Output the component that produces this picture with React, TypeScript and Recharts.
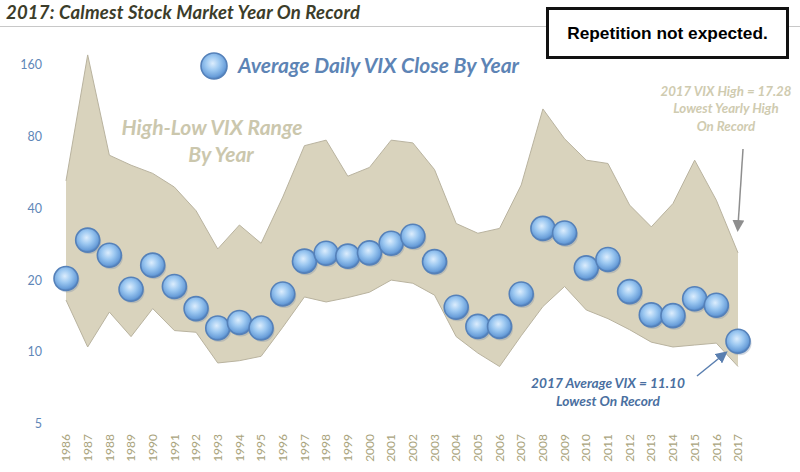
import { ComposedChart, Area, Scatter, XAxis, YAxis } from "recharts";

const years = [
  1986, 1987, 1988, 1989, 1990, 1991, 1992, 1993, 1994, 1995, 1996, 1997, 1998, 1999, 2000, 2001,
  2002, 2003, 2004, 2005, 2006, 2007, 2008, 2009, 2010, 2011, 2012, 2013, 2014, 2015, 2016, 2017,
];

// average daily close per year
const avgClose = [
  20.3, 29.4, 25.4, 18.3, 23.1, 18.8, 15.2, 12.6, 13.3, 12.6, 17.5, 24.0, 25.9, 25.2, 26.0, 28.5,
  30.5, 23.9, 15.4, 12.8, 12.8, 17.5, 32.9, 31.5, 22.5, 24.4, 17.9, 14.3, 14.2, 16.7, 15.7, 11.1,
];

const yearHigh = [
  52, 175, 66.6, 60.5, 55.9, 49, 39, 27, 34, 28.5, 44.5, 73, 77, 54.4, 59.2, 77,
  75, 58, 34.5, 31.4, 32.9, 50, 104, 78, 63.5, 61.5, 41.2, 33.4, 41.8, 63.5, 43.2, 26,
];

const yearLow = [
  16.5, 10.5, 14.7, 11.6, 15.2, 12.3, 12.1, 9.0, 9.2, 9.6, 12.7, 17.0, 16.2, 16.9, 17.8, 20.0,
  19.4, 17.3, 11.6, 9.9, 8.7, 11.7, 15.5, 18.8, 15.0, 13.8, 12.4, 11.0, 10.5, 10.7, 10.9, 8.7,
];

const yTicks = [5, 10, 20, 40, 80, 160];

const data = years.map((year, i) => ({
  year,
  avg: avgClose[i],
  range: [yearLow[i], yearHigh[i]],
}));

const FONT = "Lato, 'Open Sans', sans-serif";

function Bubble(props: any) {
  const { cx, cy } = props;
  if (cx == null || cy == null) return null;
  return (
    <g>
      <circle cx={cx + 1.5} cy={cy + 2} r={12} fill="#7d8fa6" opacity={0.35} />
      <circle cx={cx} cy={cy} r={12} fill="url(#bubbleFill)" stroke="#5581b9" strokeWidth={1.6} />
    </g>
  );
}

function YearTick(props: any) {
  const { x, y, payload } = props;
  return (
    <text
      x={x}
      y={y}
      transform={`rotate(-90, ${x}, ${y})`}
      textAnchor="end"
      dy="0.35em"
      fill="#a9a37c"
      fontSize={12}
      fontFamily={FONT}
    >
      {payload.value}
    </text>
  );
}

export default function App() {
  return (
    <div
      style={{
        position: "fixed",
        left: 0,
        top: 0,
        width: 800,
        height: 472,
        background: "#fff",
        overflow: "hidden",
        fontFamily: FONT,
      }}
    >
      <ComposedChart
        width={800}
        height={472}
        data={data}
        margin={{ top: 52, right: 62, bottom: 0, left: 6 }}
      >
        <defs>
          <radialGradient id="bubbleFill" cx="45%" cy="40%" r="60%">
            <stop offset="0%" stopColor="#dcedfd" />
            <stop offset="45%" stopColor="#9cc8f1" />
            <stop offset="85%" stopColor="#6a9fda" />
            <stop offset="100%" stopColor="#4f7fbd" />
          </radialGradient>
        </defs>
        <XAxis
          dataKey="year"
          type="number"
          domain={[1986, 2017]}
          ticks={years}
          interval={0}
          height={48}
          axisLine={false}
          tickLine={false}
          tickSize={0}
          tickMargin={10}
          tick={<YearTick />}
        />
        <YAxis
          scale="log"
          domain={[5, 180]}
          ticks={yTicks}
          allowDataOverflow
          width={60}
          axisLine={false}
          tickLine={false}
          tickSize={0}
          tickMargin={24}
          tick={{ fill: "#5f87b8", fontSize: 12.5, fontFamily: FONT }}
        />
        <Area
          dataKey="range"
          type="linear"
          fill="#d9d3bd"
          fillOpacity={1}
          stroke="#b9b39f"
          strokeWidth={1}
          isAnimationActive={false}
        />
        <Scatter dataKey="avg" shape={<Bubble />} isAnimationActive={false} />
      </ComposedChart>

      {/* title and rule */}
      <div
        style={{
          position: "absolute",
          left: 6,
          top: 1,
          fontSize: 18.5,
          fontWeight: 700,
          fontStyle: "italic",
          letterSpacing: 0.2,
          color: "#3c3d2a",
          whiteSpace: "nowrap",
        }}
      >
        2017: Calmest Stock Market Year On Record
      </div>
      <div style={{ position: "absolute", left: 0, top: 26, width: 800, height: 1, background: "#c8c8c8" }} />

      <div
        style={{
          position: "absolute",
          left: 546,
          top: 7,
          width: 237,
          height: 46,
          border: "3px solid #111",
          background: "#fff",
          display: "flex",
          alignItems: "center",
          justifyContent: "center",
          fontFamily: "'Liberation Sans', Arial, sans-serif",
          fontWeight: 700,
          fontSize: 17.3,
          color: "#000",
        }}
      >
        Repetition not expected.
      </div>

      {/* overlays: legend bubble, notes, arrows */}
      <svg width={800} height={472} style={{ position: "absolute", left: 0, top: 0, pointerEvents: "none" }}>
        <defs>
          <radialGradient id="legendFill" cx="45%" cy="40%" r="60%">
            <stop offset="0%" stopColor="#dcedfd" />
            <stop offset="45%" stopColor="#9cc8f1" />
            <stop offset="85%" stopColor="#6a9fda" />
            <stop offset="100%" stopColor="#4f7fbd" />
          </radialGradient>
          <marker id="greyHead" markerWidth="8" markerHeight="8" refX="4" refY="4" orient="auto">
            <path d="M0,0 L8,4 L0,8 z" fill="#8e8e8e" />
          </marker>
          <marker id="blueHead" markerWidth="8" markerHeight="8" refX="4" refY="4" orient="auto">
            <path d="M0,0 L8,4 L0,8 z" fill="#5a7fb0" />
          </marker>
        </defs>
        <circle cx={214} cy={66} r={13} fill="url(#legendFill)" stroke="#5581b9" strokeWidth={1.6} />
        <text x={238} y={73} fontSize={21} fontWeight={700} fontStyle="italic" fill="#5d84b5" fontFamily={FONT}>
          Average Daily VIX Close By Year
        </text>
        <text textAnchor="middle" fontSize={21} fontWeight={700} fontStyle="italic" fill="#cbc7ad" fontFamily={FONT}>
          <tspan x={212} y={135}>High-Low VIX Range</tspan>
          <tspan x={221} y={162}>By Year</tspan>
        </text>
        <text textAnchor="middle" fontSize={13.3} fontWeight={700} fontStyle="italic" fill="#cfcbb0" fontFamily={FONT}>
          <tspan x={726} y={96}>2017 VIX High = 17.28</tspan>
          <tspan x={726} y={113}>Lowest Yearly High</tspan>
          <tspan x={726} y={131}>On Record</tspan>
        </text>
        <line x1={743} y1={149} x2={738} y2={226} stroke="#8e8e8e" strokeWidth={1.5} markerEnd="url(#greyHead)" />
        <text textAnchor="middle" fontSize={13.7} fontWeight={700} fontStyle="italic" fill="#4a6fa0" fontFamily={FONT}>
          <tspan x={608} y={388}>2017 Average VIX = 11.10</tspan>
          <tspan x={608} y={406}>Lowest On Record</tspan>
        </text>
        <line x1={697} y1={376} x2={723} y2={355} stroke="#5a7fb0" strokeWidth={1.5} markerEnd="url(#blueHead)" />
      </svg>
    </div>
  );
}
